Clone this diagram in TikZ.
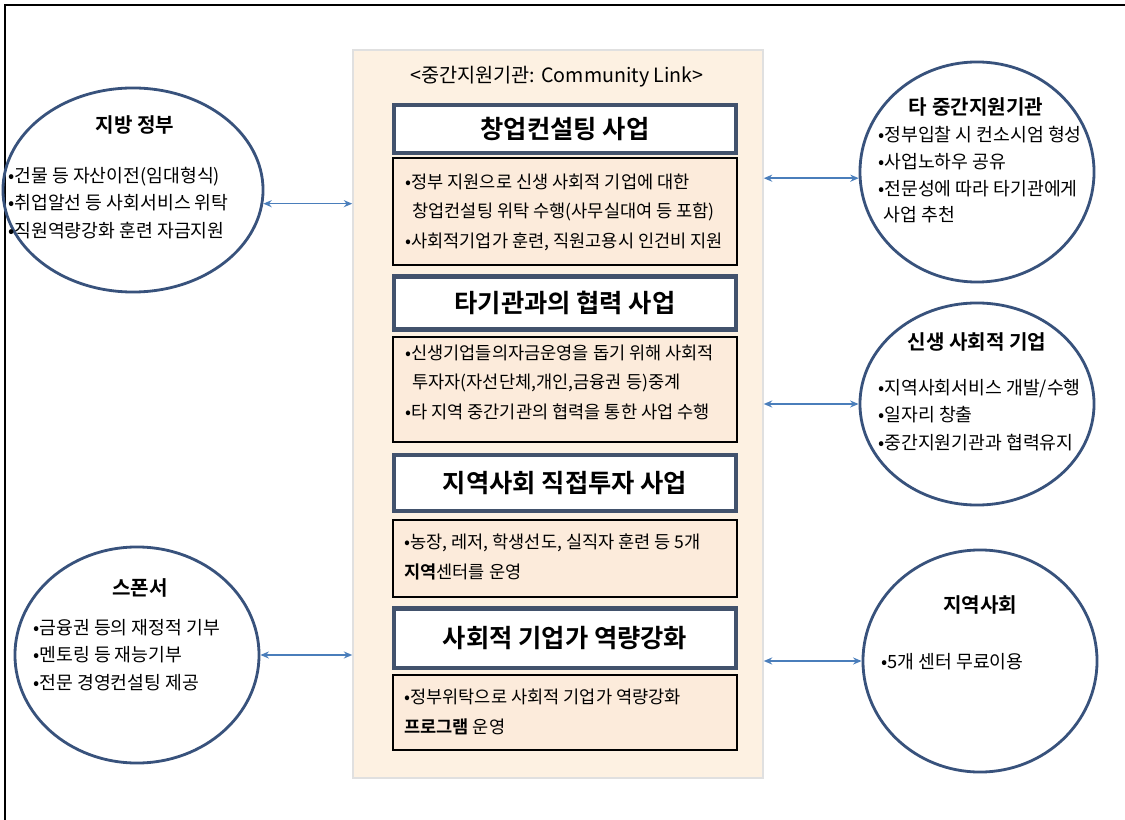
\documentclass[tikz,border=0pt]{standalone}
\usepackage{fontspec}
\setmainfont{Noto Sans CJK KR}[BoldFont={Noto Sans CJK KR Bold}]
\usetikzlibrary{shapes.geometric}
\usetikzlibrary{shadows}
\usetikzlibrary{arrows.meta}
\definecolor{peach}{RGB}{253,241,226}
\definecolor{peachbox}{RGB}{252,235,219}
\definecolor{navy}{RGB}{56,82,124}
\definecolor{slate}{RGB}{66,82,108}
\definecolor{linkblue}{RGB}{74,126,187}

\begin{document}
\begin{tikzpicture}[x=0.025cm, y=-0.025cm,
  bubble/.style={ellipse, draw=navy, line width=2pt, inner sep=0pt},
  btitle/.style={font=\fontsize{14.3}{17}\selectfont\bfseries},
  btext/.style={font=\fontsize{13}{19.5}\selectfont, align=left, anchor=west, inner sep=0pt},
  headbox/.style={draw=slate, line width=3pt, fill=white, minimum width=8.55cm, font=\fontsize{18}{21}\selectfont\bfseries, drop shadow={shadow xshift=1.5pt, shadow yshift=-1.5pt, opacity=0.35}},
  infobox/.style={draw=black, line width=0.8pt, fill=peachbox, minimum width=8.6cm, inner sep=0pt},
  infotext/.style={font=\fontsize{12.5}{21}\selectfont, align=left, anchor=west, inner sep=0pt},
  link/.style={{Stealth[length=6pt,width=5pt]}-{Stealth[length=6pt,width=5pt]}, linkblue, line width=1pt}]

\useasboundingbox (0,0) rectangle (1125,820);
\fill [white] (0,0) rectangle (1125,820);
\draw [line width=1pt] (5,820) -- (5,5) -- (1125,5);

% middle panel
\node [fill=peach, draw=black!12, line width=1pt, minimum width=10.25cm, minimum height=18.2cm] (panel) at (558,414) {};
\node [font=\fontsize{14}{17}\selectfont] (panelhead) at (557,77) {<중간지원기관: Community Link>};

\node [headbox, minimum height=1.2cm] (t1) at (565,129) {창업컨설팅 사업};
\node [infobox, minimum height=2.675cm] (c1) at (565,211.5) {};
\node [infotext] (c1text) at (405,212) {•정부 지원으로 신생 사회적 기업에 대한\\\hspace*{0.4em}창업컨설팅 위탁 수행(사무실대여 등 포함)\\•사회적기업가 훈련, 직원고용시 인건비 지원};

\node [headbox, minimum height=1.33cm] (t2) at (565,303) {타기관과의 협력 사업};
\node [infobox, minimum height=2.625cm] (c2) at (565,389.5) {};
\node [infotext] (c2text) at (405,382) {•신생기업들의자금운영을 돕기 위해 사회적\\\hspace*{0.4em}투자자(자선단체,개인,금융권 등)중계\\•타 지역 중간기관의 협력을 통한 사업 수행};

\node [headbox, minimum height=1.4cm] (t3) at (565,483) {지역사회 직접투자 사업};
\node [infobox, minimum height=1.925cm] (c3) at (565,558.5) {};
\node [infotext] (c3text) at (404,557) {•농장, 레저, 학생선도, 실직자 훈련 등 5개\\\textbf{지역}센터를 운영};

\node [headbox, minimum height=1.48cm] (t4) at (565,638) {사회적 기업가 역량강화};
\node [infobox, minimum height=1.875cm] (c4) at (565,712.5) {};
\node [infotext] (c4text) at (404,712) {•정부위탁으로 사회적 기업가 역량강화\\\textbf{프로그램} 운영};

% partners
\node [bubble, minimum width=6.5cm, minimum height=5.1cm] (lgov) at (133,190) {};
\node [btitle] (lgovhead) at (135,125) {지방 정부};
\node [btext] (lgovlist) at (8,203) {•건물 등 자산이전(임대형식)\\•취업알선 등 사회서비스 위탁\\•직원역량강화 훈련 자금지원};

\node [bubble, minimum width=6.1cm, minimum height=5.4cm] (sponsor) at (137,655) {};
\node [btitle] (sponsorhead) at (140,588) {스폰서};
\node [btext] (sponsorlist) at (33,655) {•금융권 등의 재정적 기부\\•멘토링 등 재능기부\\•전문 경영컨설팅 제공};

\node [bubble, minimum width=5.85cm, minimum height=5.5cm] (other) at (977,172) {};
\node [btitle] (otherhead) at (976,107) {타 중간지원기관};
\node [btext, font=\fontsize{13}{19}\selectfont] (otherlist) at (878,175) {•정부입찰 시 컨소시엄 형성\\•사업노하우 공유\\•전문성에 따라 타기관에게\\\hspace*{0.3em}사업 추천};

\node [bubble, minimum width=5.85cm, minimum height=5.05cm] (startup) at (977,404) {};
\node [btitle] (startuphead) at (977,342) {신생 사회적 기업};
\node [btext] (startuplist) at (878,415) {•지역사회서비스 개발/수행\\•일자리 창출\\•중간지원기관과 협력유지};

\node [bubble, minimum width=5.85cm, minimum height=5.55cm] (community) at (980,661) {};
\node [btitle] (communityhead) at (980,605) {지역사회};
\node [btext] (communitylist) at (881,662) {•5개 센터 무료이용};

\draw [link] (lgov.-6) -- (lgov.-6 -| panel.west);
\draw [link] (sponsor.east) -- (sponsor.east -| panel.west);
\draw [link] (panel.east |- other.183) -- (other.183);
\draw [link] (panel.east |- startup.west) -- (startup.west);
\draw [link] (panel.east |- community.west) -- (community.west);

\end{tikzpicture}
\end{document}
